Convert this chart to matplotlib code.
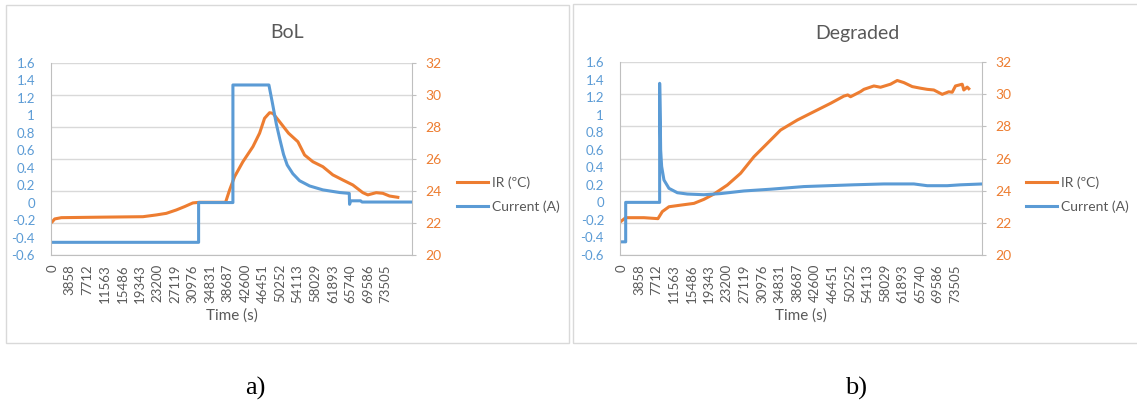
import matplotlib
matplotlib.use('Agg')
import matplotlib.pyplot as plt
from matplotlib.patches import Rectangle

plt.rcParams['font.family'] = ['Lato', 'DejaVu Sans']

BLUE = '#5B9BD5'
ORANGE = '#ED7D31'
GREY = '#595959'
GRID = '#D9D9D9'
AXIS = '#BFBFBF'

# x axis labels (Excel category labels)
time_ticks = [0, 3858, 7712, 11563, 15486, 19343, 23200, 27119, 30976, 34831,
              38687, 42600, 46451, 50252, 54113, 58029, 61893, 65740, 69586, 73505]
cur_ticks = [-0.6, -0.4, -0.2, 0, 0.2, 0.4, 0.6, 0.8, 1.0, 1.2, 1.4, 1.6]
cur_tick_labels = ['-0.6', '-0.4', '-0.2', '0', '0.2', '0.4', '0.6', '0.8', '1', '1.2', '1.4', '1.6']
ir_ticks = [20, 22, 24, 26, 28, 30, 32]

# --- a) BoL ---
bol_cur_t = [0, 32260, 32260, 39830, 39830, 47770, 48500, 49400, 50200, 51000, 51800,
             53050, 54530, 56740, 59670, 63350, 65500, 65560, 65800, 68000, 68300, 79300]
bol_cur = [-0.455, -0.455, 0.0, 0.0, 1.345, 1.345, 1.15, 0.90, 0.72, 0.55, 0.43,
           0.33, 0.25, 0.19, 0.145, 0.115, 0.105, -0.02, 0.02, 0.02, 0.006, 0.006]

bol_ir_t = [0, 510, 1980, 10430, 19980, 22930, 25140, 27340, 29170, 31000, 32480,
            38210, 39100, 40200, 42030, 44240, 45710, 46810, 47920, 48650, 50120,
            52100, 54160, 55640, 57470, 59670, 61870, 64080, 66280, 68490, 69590,
            71440, 72900, 74380, 76210]
bol_ir = [22.08, 22.25, 22.33, 22.36, 22.39, 22.5, 22.6, 22.81, 23.02, 23.25, 23.29,
          23.29, 24.06, 24.89, 25.82, 26.76, 27.6, 28.53, 28.88, 28.84, 28.32,
          27.6, 27.07, 26.24, 25.82, 25.51, 25.0, 24.68, 24.37, 23.89, 23.75,
          23.89, 23.85, 23.68, 23.6]

# --- b) Degraded ---
deg_cur_t = [0, 950, 950, 8420, 8420, 8570, 8640, 8860, 9370, 10470, 12310, 14510,
             18160, 21830, 26960, 32830, 40150, 51000, 57740, 64340, 67280, 71680,
             74600, 79500]
deg_cur = [-0.45, -0.45, 0.0, 0.0, 1.357, 0.90, 0.60, 0.41, 0.255, 0.16, 0.11, 0.095,
           0.087, 0.10, 0.13, 0.15, 0.18, 0.20, 0.21, 0.21, 0.19, 0.19,
           0.20, 0.21]

deg_ir_t = [0, 950, 4970, 8050, 9010, 10470, 13040, 15970, 18160, 20360, 23310,
            26230, 29160, 32100, 35030, 38700, 42350, 46020, 48950, 49800, 50420,
            52620, 53350, 55550, 57010, 59210, 60690, 62140, 63990, 65810, 67280,
            68730, 70580, 72030, 72780, 73500, 74980, 75330, 76080, 76430]
deg_ir = [22.11, 22.32, 22.32, 22.26, 22.7, 23.0, 23.1, 23.21, 23.46, 23.79, 24.35,
          25.08, 26.11, 26.94, 27.77, 28.39, 28.91, 29.43, 29.88, 29.95, 29.84,
          30.16, 30.3, 30.51, 30.43, 30.62, 30.85, 30.72, 30.47, 30.37, 30.3,
          30.26, 29.99, 30.15, 30.12, 30.51, 30.62, 30.26, 30.44, 30.34]

W, H = 1137, 403
fig = plt.figure(figsize=(W / 100, H / 100), dpi=100)


def panel(x0, x1, ytop, ybot, title, title_x, legend_x, cur_t, cur, ir_t, ir):
    ax = fig.add_axes([x0 / W, 1 - ybot / H, (x1 - x0) / W, (ybot - ytop) / H])
    ax2 = ax.twinx()
    ax.set_zorder(ax2.get_zorder() + 1)
    ax.patch.set_visible(False)

    ir_line, = ax2.plot(ir_t, ir, color=ORANGE, lw=2.2, label='IR (ºC)')
    cur_line, = ax.plot(cur_t, cur, color=BLUE, lw=2.2, label='Current (A)')

    ax.set_xlim(-300, 79400)
    ax.set_ylim(-0.6, 1.6)
    ax2.set_ylim(20, 32)

    ax.set_xticks(time_ticks)
    ax.set_xticklabels([str(t) for t in time_ticks])
    ax.set_yticks(cur_ticks)
    ax.set_yticklabels(cur_tick_labels)
    ax2.set_yticks(ir_ticks)

    ax2.grid(axis='y', color=GRID, lw=1)
    ax2.set_axisbelow(True)

    for s in ['top', 'right']:
        ax.spines[s].set_visible(False)
    for s in ['top', 'left', 'bottom']:
        ax2.spines[s].set_visible(False)
    ax.spines['left'].set_color(AXIS)
    ax.spines['bottom'].set_color(AXIS)
    ax2.spines['right'].set_color(AXIS)

    ax.tick_params(axis='y', length=0, pad=11.5, labelcolor=BLUE, labelsize=9.5)
    ax.tick_params(axis='x', length=0, pad=6.5, labelcolor=GREY, labelsize=9.5,
                   labelrotation=90)
    ax2.tick_params(axis='y', length=3, color=AXIS, pad=6.5, labelcolor=ORANGE,
                    labelsize=10)

    ax.set_xlabel('Time (s)', color=GREY, fontsize=11, labelpad=4)
    fig.text(title_x / W, 1 - 33 / H, title, ha='center', va='center',
             fontsize=14, color=GREY)
    fig.legend(handles=[ir_line, cur_line], loc='center left',
               bbox_to_anchor=(legend_x / W, 1 - 194.5 / H), frameon=False,
               borderpad=0, borderaxespad=0, handlelength=2.2, handletextpad=0.3,
               labelspacing=0.85, fontsize=10, labelcolor=GREY)


panel(51, 412.3, 62.7, 255, 'BoL', 287, 457, bol_cur_t, bol_cur, bol_ir_t, bol_ir)
panel(620, 982.3, 62, 255, 'Degraded', 857, 1026, deg_cur_t, deg_cur, deg_ir_t, deg_ir)

# panel frames
fig.add_artist(Rectangle((6 / W, 1 - 343 / H), 562.7 / W, 338 / H,
                         transform=fig.transFigure, fill=False, ec=GRID, lw=1))
fig.add_artist(Rectangle((572.7 / W, 1 - 343 / H), 570 / W, 339 / H,
                         transform=fig.transFigure, fill=False, ec=GRID, lw=1))

# captions
fig.text(255 / W, 1 - 388 / H, 'a)', family='Liberation Serif', fontsize=19,
         ha='center', va='center')
fig.text(856 / W, 1 - 388 / H, 'b)', family='Liberation Serif', fontsize=19,
         ha='center', va='center')

fig.savefig('out.png', dpi=100)
